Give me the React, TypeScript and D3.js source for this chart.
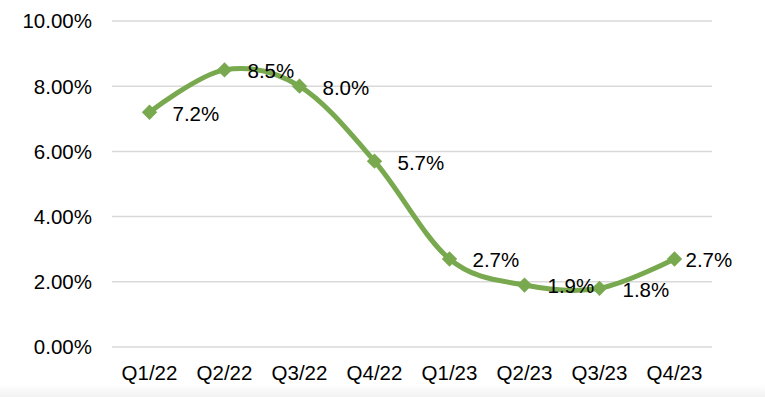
import React from "react";
import * as d3 from "d3";

const quarters = ["Q1/22", "Q2/22", "Q3/22", "Q4/22", "Q1/23", "Q2/23", "Q3/23", "Q4/23"];
const rates = [7.2, 8.5, 8.0, 5.7, 2.7, 1.9, 1.8, 2.7];
const yTicks = [0, 2, 4, 6, 8, 10];

const width = 765;
const height = 397;
const green = "#78a94f";
const font = "Liberation Sans, Arial, sans-serif";

export default function App() {
  const x = d3.scaleBand().domain(quarters).range([112, 712]);
  const y = d3.scaleLinear().domain([0, 10]).range([347, 21]);
  const cx = (q: string) => (x(q) as number) + x.bandwidth() / 2;

  const line = d3
    .line<number>()
    .x((d, i) => cx(quarters[i]))
    .y((d) => y(d))
    .curve(d3.curveCardinal.tension(0));

  const diamond = d3.symbol().type(d3.symbolDiamond2).size(150)();

  return (
    <svg
      width={width}
      height={height}
      style={{ position: "fixed", left: 0, top: 0 }}
      fontFamily={font}
    >
      <defs>
        <linearGradient id="bottomFade" x1="0" y1="0" x2="0" y2="1">
          <stop offset="0" stopColor="#ffffff" />
          <stop offset="1" stopColor="#f2f2f2" />
        </linearGradient>
      </defs>
      <rect width={width} height={height} fill="#fff" />
      <rect y={384} width={width} height={13} fill="url(#bottomFade)" />

      {yTicks.map((t) => (
        <g key={t}>
          <line x1={112} x2={712} y1={y(t)} y2={y(t)} stroke="#d9d9d9" strokeWidth={1.5} />
          <text x={92} y={y(t)} dy="0.36em" textAnchor="end" fontSize={20.5} fill="#000">
            {t.toFixed(2)}%
          </text>
        </g>
      ))}

      {quarters.map((q) => (
        <text key={q} x={cx(q)} y={380} textAnchor="middle" fontSize={20.5} fill="#000">
          {q}
        </text>
      ))}

      <path d={line(rates) ?? ""} fill="none" stroke={green} strokeWidth={5} strokeLinecap="round" />

      {rates.map((r, i) => (
        <path key={i} d={diamond ?? ""} transform={`translate(${cx(quarters[i])},${y(r)})`} fill={green} />
      ))}

      {rates.map((r, i) => (
        <text
          key={i}
          x={cx(quarters[i]) + (i === rates.length - 1 ? 11 : 23)}
          y={y(r) + 1}
          dy="0.36em"
          fontSize={20.5}
          fill="#000"
        >
          {r.toFixed(1)}%
        </text>
      ))}
    </svg>
  );
}
